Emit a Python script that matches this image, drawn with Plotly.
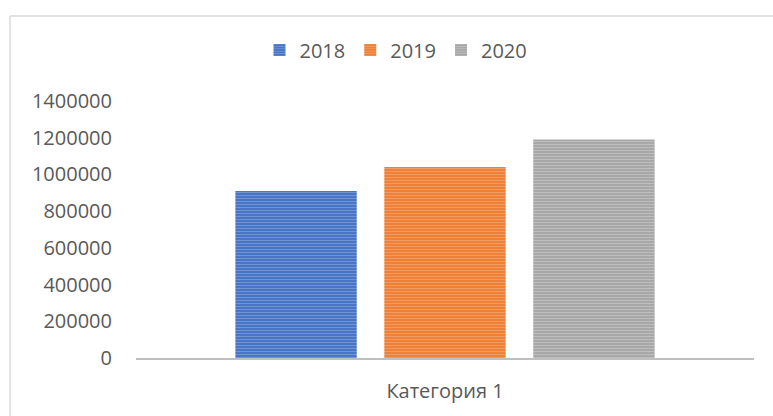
import plotly.graph_objects as go

categories = ["Категория 1"]
years = ["2018", "2019", "2020"]
values_2018 = [910000]
values_2019 = [1040000]
values_2020 = [1190000]
tick_values = [0, 200000, 400000, 600000, 800000, 1000000, 1200000, 1400000]

series = [
    ("2018", values_2018, "#4472C4", "#9DB5E3"),
    ("2019", values_2019, "#ED7D31", "#F7B98F"),
    ("2020", values_2020, "#A5A5A5", "#D6D6D6"),
]

fig = go.Figure()
for name, vals, base, stripe in series:
    fig.add_trace(go.Bar(
        x=categories, y=vals, name=name,
        marker=dict(
            color=base,
            line=dict(width=0),
            pattern=dict(shape="-", fgcolor=stripe, bgcolor=base,
                         size=3, solidity=0.4, fillmode="overlay"),
        ),
    ))

W, H = 773, 416
L, R, T, B = 136, 19, 101, 58
pw = W - L - R
ph = H - T - B

fig.update_layout(
    width=W, height=H,
    margin=dict(l=L, r=R, t=T, b=B),
    paper_bgcolor="white", plot_bgcolor="white",
    barmode="group", bargap=0.277, bargroupgap=0.185,
    font=dict(family="Open Sans", size=20, color="#595959"),
    showlegend=True,
    legend=dict(orientation="h", x=(396 - L) / pw, xanchor="center",
                y=1 + (T - 50) / ph, yanchor="middle",
                font=dict(size=20, color="#595959"),
                itemwidth=30, traceorder="normal"),
    xaxis=dict(showline=True, linecolor="#BFBFBF", linewidth=2,
               showgrid=False, ticks="", ticklabelstandoff=14),
    yaxis=dict(range=[0, 1400000], tickvals=tick_values,
               tickformat="d", showgrid=False, zeroline=False,
               showline=False, ticks="", ticklabelstandoff=23),
    shapes=[
        # chart area border (left and top edges)
        dict(type="line", xref="paper", yref="paper",
             x0=(10 - L) / pw, x1=(10 - L) / pw,
             y0=-(B + 5) / ph, y1=1 + (T - 16) / ph,
             line=dict(color="#D9D9D9", width=1.5)),
        dict(type="line", xref="paper", yref="paper",
             x0=(10 - L) / pw, x1=1 + (R + 5) / pw,
             y0=1 + (T - 16) / ph, y1=1 + (T - 16) / ph,
             line=dict(color="#D9D9D9", width=1.5)),
    ],
)

fig.write_html("out.html")
